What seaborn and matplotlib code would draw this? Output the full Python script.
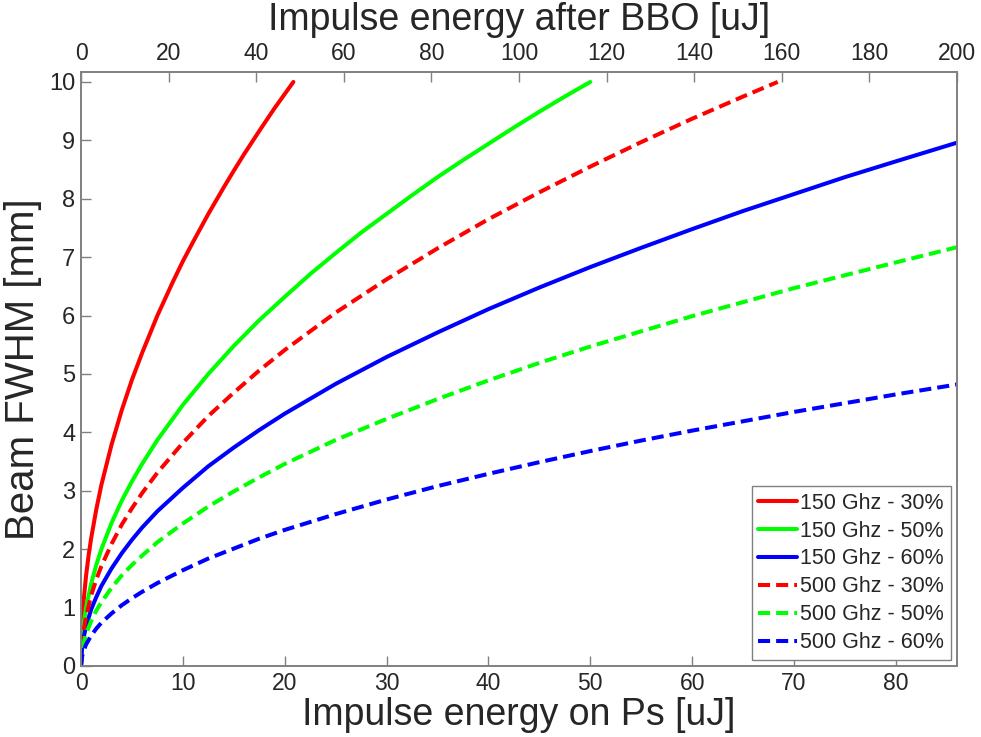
import matplotlib
matplotlib.use("Agg")
import matplotlib.pyplot as plt
import seaborn as sns
import pandas as pd

# ---- data ----
# Impulse energy on Ps [uJ] (x) and beam FWHM [mm] (y)
e_150_30 = [0, 0.1, 0.25, 0.5, 0.75, 1, 1.5, 2, 3, 4, 5, 6, 7.5, 9, 10, 11, 12.5, 14, 15, 16, 17.5, 19, 20.85]
w_150_30 = [0, 0.69, 1.10, 1.55, 1.90, 2.19, 2.68, 3.10, 3.79, 4.38, 4.90, 5.36, 6.00, 6.57, 6.93, 7.26, 7.74, 8.19, 8.48, 8.76, 9.16, 9.55, 10.0]

e_150_50 = [0, 0.1, 0.25, 0.5, 1, 1.5, 2, 3, 4, 5, 6, 7.5, 10, 12.5, 15, 17.5, 20, 22.5, 25, 27.5,
            30, 32.5, 35, 37.5, 40, 42.5, 45, 47.5, 50]
w_150_50 = [0, 0.45, 0.71, 1.00, 1.41, 1.73, 2.00, 2.45, 2.83, 3.16, 3.46, 3.87, 4.47, 5.00, 5.48, 5.92, 6.32, 6.71, 7.07, 7.42,
            7.74, 8.06, 8.37, 8.66, 8.94, 9.22, 9.49, 9.75, 10.0]

e_long = [0, 0.1, 0.25, 0.5, 1, 1.5, 2, 3, 4, 5, 6, 7.5, 10, 12.5, 15, 17.5, 20, 25, 30, 35, 40, 45,
          50, 55, 60, 65, 70, 75, 80, 86]
w_150_60 = [0, 0.31, 0.48, 0.68, 0.97, 1.18, 1.37, 1.67, 1.93, 2.16, 2.37, 2.65, 3.05, 3.42, 3.74, 4.04, 4.32, 4.83, 5.29, 5.71, 6.11, 6.48,
            6.83, 7.16, 7.48, 7.79, 8.08, 8.37, 8.64, 8.96]

e_500_30 = [0, 0.1, 0.25, 0.5, 1, 1.5, 2, 3, 4, 5, 6, 7.5, 10, 12.5, 15, 17.5, 20, 25, 30, 35, 40, 45,
            50, 55, 60, 65, 68.4]
w_500_30 = [0, 0.38, 0.60, 0.85, 1.21, 1.48, 1.71, 2.09, 2.42, 2.70, 2.96, 3.31, 3.82, 4.28, 4.68, 5.06, 5.41, 6.05, 6.62, 7.15, 7.65, 8.11,
            8.55, 8.97, 9.37, 9.75, 10.0]

w_500_50 = [0, 0.24, 0.39, 0.55, 0.77, 0.95, 1.09, 1.34, 1.55, 1.73, 1.89, 2.12, 2.44, 2.73, 2.99, 3.23, 3.46, 3.87, 4.23, 4.57, 4.89, 5.19,
            5.47, 5.73, 5.99, 6.23, 6.47, 6.69, 6.91, 7.17]
w_500_60 = [0, 0.16, 0.26, 0.37, 0.52, 0.64, 0.74, 0.90, 1.04, 1.16, 1.27, 1.42, 1.64, 1.84, 2.01, 2.18, 2.33, 2.60, 2.85, 3.08, 3.29, 3.49,
            3.68, 3.86, 4.03, 4.19, 4.35, 4.50, 4.65, 4.82]

labels = ["150 Ghz - 30%", "150 Ghz - 50%", "150 Ghz - 60%",
          "500 Ghz - 30%", "500 Ghz - 50%", "500 Ghz - 60%"]
xs = [e_150_30, e_150_50, e_long, e_500_30, e_long, e_long]
ys = [w_150_30, w_150_50, w_150_60, w_500_30, w_500_50, w_500_60]

x_top_ticks = list(range(0, 201, 20))
x_bot_ticks = list(range(0, 81, 10))
y_ticks = list(range(0, 11))

# ---- styling ----
sns.set_theme(style="white")
plt.rcParams["font.family"] = ["Liberation Sans", "DejaVu Sans"]

colors = ["#ff0000", "#00ff00", "#0000ff", "#ff0000", "#00ff00", "#0000ff"]
styles = ["-", "-", "-", "--", "--", "--"]

fig = plt.figure(figsize=(9.81, 7.37), dpi=100)
ax = fig.add_axes([81 / 981, 1 - 666 / 737, (957 - 81) / 981, (666 - 72) / 737])

for x, y, lab, c, ls in zip(xs, ys, labels, colors, styles):
    df = pd.DataFrame({"E": x, "W": y})
    sns.lineplot(data=df, x="E", y="W", ax=ax, color=c, linewidth=2.9,
                 label=lab, sort=True, estimator=None)
    line = ax.get_lines()[-1]
    line.set_solid_joinstyle("round")
    if ls == "--":
        line.set_dashes([3.0, 1.5])

ax.set_xlim(0, 86)
ax.set_ylim(0, 10.17)
ax.set_xticks(x_bot_ticks)
ax.set_yticks(y_ticks)
ax.set_xticklabels([str(t) for t in x_bot_ticks], fontsize=16.5)
ax.set_yticklabels([str(t) for t in y_ticks], fontsize=17)
ax.tick_params(axis="both", direction="in", length=7, width=1, color="#808080",
               pad=4, top=False, right=False, bottom=True, left=True)
ax.set_xlabel("Impulse energy on Ps [uJ]", fontsize=27, labelpad=2)
ax.set_ylabel("Beam FWHM [mm]", fontsize=29, labelpad=5)
for s in ax.spines.values():
    s.set_color("#808080")
    s.set_linewidth(1.2)
    s.set_visible(True)

ax2 = ax.twiny()
ax2.set_xlim(0, 200)
ax2.set_xticks(x_top_ticks)
ax2.set_xticklabels([str(t) for t in x_top_ticks], fontsize=16.5)
ax2.tick_params(axis="x", direction="in", length=7, width=1, color="#808080", pad=5)
ax2.set_xlabel("Impulse energy after BBO [uJ]", fontsize=27, labelpad=9)
for s in ax2.spines.values():
    s.set_color("#808080")
    s.set_linewidth(1.2)

handles, labs = ax.get_legend_handles_labels()
leg = ax.legend(handles, labs, loc="lower right", fontsize=15.5, frameon=True,
                fancybox=False, framealpha=1, edgecolor="#808080",
                handlelength=1.8, handletextpad=0.15, labelspacing=0.32,
                borderpad=0.3, borderaxespad=0.3)
leg.get_frame().set_linewidth(1.0)

fig.savefig("out.png", dpi=100)
